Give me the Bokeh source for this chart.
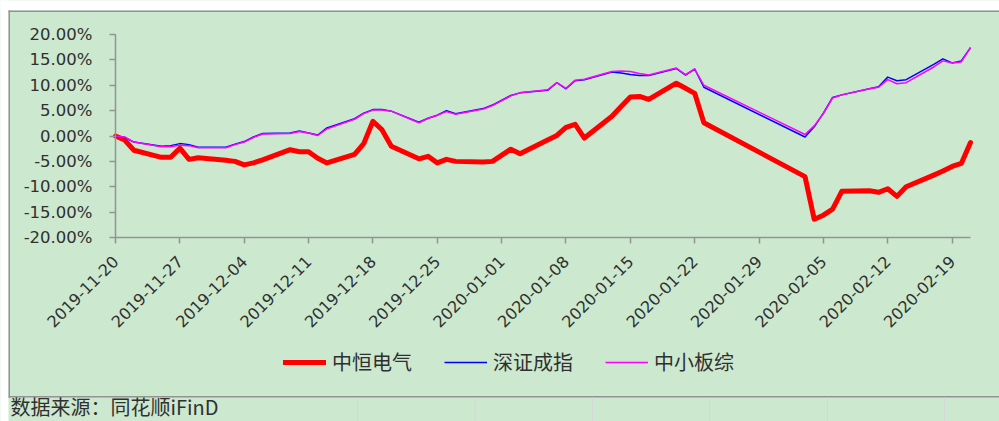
import pandas as pd
from bokeh.plotting import figure
from bokeh.models import (FixedTicker, DatetimeTickFormatter, PrintfTickFormatter, Legend, LegendItem,
                          Range1d, BoxAnnotation, Label)
from bokeh.embed import file_html
from bokeh.resources import INLINE
from math import pi

dates = ["2019-11-20","2019-11-21","2019-11-22","2019-11-25","2019-11-26","2019-11-27","2019-11-28","2019-11-29",
         "2019-12-02","2019-12-03","2019-12-04","2019-12-05","2019-12-06","2019-12-09","2019-12-10","2019-12-11",
         "2019-12-12","2019-12-13","2019-12-16","2019-12-17","2019-12-18","2019-12-19","2019-12-20","2019-12-23",
         "2019-12-24","2019-12-25","2019-12-26","2019-12-27","2019-12-30","2019-12-31",
         "2020-01-02","2020-01-03","2020-01-06","2020-01-07","2020-01-08","2020-01-09","2020-01-10","2020-01-13",
         "2020-01-14","2020-01-15","2020-01-16","2020-01-17","2020-01-20","2020-01-21","2020-01-22","2020-01-23",
         "2020-02-03","2020-02-04","2020-02-05","2020-02-06","2020-02-07","2020-02-10","2020-02-11","2020-02-12",
         "2020-02-13","2020-02-14","2020-02-17","2020-02-18","2020-02-19","2020-02-20","2020-02-21"]

zhongheng = [0.0, -0.8, -2.8, -4.2, -4.2, -2.4, -4.6, -4.3,
             -4.8, -5.0, -5.7, -5.3, -4.7, -2.7, -3.1, -3.1, -4.4, -5.3, -3.6, -1.5, 2.9, 1.2, -2.0,
             -4.5, -4.0, -5.3, -4.6, -5.0, -5.1, -5.0,
             -2.6, -3.5, -0.8, 0.1, 1.7, 2.3, -0.4, 3.9, 5.8, 7.7, 7.8, 7.2, 10.4, 9.4, 8.4, 2.6,
             -8.0, -16.4, -15.6, -14.4, -10.9, -10.8, -11.1, -10.4, -11.9, -10.0, -7.7, -6.9, -6.0, -5.4, -1.3]

szci = [0.0, -0.3, -1.2, -2.0, -1.9, -1.5, -1.7, -2.2,
        -2.2, -1.6, -1.1, -0.2, 0.5, 0.6, 1.0, 0.6, 0.2, 1.6, 3.4, 4.5, 5.2, 5.2, 4.9,
        2.7, 3.5, 4.1, 5.0, 4.4, 5.4, 6.1,
        8.0, 8.5, 9.0, 10.5, 9.3, 10.9, 11.1, 12.6, 12.4, 12.1, 11.9, 11.9, 13.3, 12.0, 13.2, 9.6,
        -0.2, 1.8, 4.5, 7.6, 8.1, 9.3, 9.7, 11.6, 10.9, 11.1, 14.1, 15.2, 14.4, 14.8, 17.4]

sme = [0.0, -0.2, -1.2, -2.1, -2.1, -1.8, -1.9, -2.3,
       -2.3, -1.7, -1.2, -0.3, 0.4, 0.5, 0.9, 0.6, 0.1, 1.4, 3.3, 4.4, 5.1, 5.1, 4.9,
       2.6, 3.5, 4.1, 4.8, 4.3, 5.3, 6.0,
       7.9, 8.5, 9.1, 10.5, 9.4, 11.0, 11.2, 12.7, 12.8, 12.7, 12.3, 12.0, 13.4, 12.1, 13.2, 10.0,
       0.3, 2.0, 4.4, 7.5, 8.1, 9.3, 9.6, 11.1, 10.3, 10.5, 13.6, 14.8, 14.4, 14.6, 17.4]

x_tick_labels = ["2019-11-20","2019-11-27","2019-12-04","2019-12-11","2019-12-18","2019-12-25","2020-01-01",
                 "2020-01-08","2020-01-15","2020-01-22","2020-01-29","2020-02-05","2020-02-12","2020-02-19"]
x_first, x_last = "2019-11-20", "2020-02-21"
y_ticks = [-20, -15, -10, -5, 0, 5, 10, 15, 20]

series_names = ["中恒电气", "深证成指", "中小板综"]
source_text = "数据来源：同花顺iFinD"

# ---- layout constants (pixels) ----
W, H = 999, 421
PL, PR, PT, PB = 115, 970, 34, 237        # plot box on the page
BG = "#CCE8CF"
EDGE = "#939393"
CELL = "#d6d6d6"
TXT = "#303030"

# map the whole canvas to data space so the plot box lands at PL..PR, PT..PB
t0 = pd.Timestamp(x_first).value / 1e6
t1 = pd.Timestamp(x_last).value / 1e6
ms_px = (t1 - t0) / (PR - PL)
ymin, ymax = min(y_ticks), max(y_ticks)
y_px = (ymax - ymin) / (PB - PT)
x_range = Range1d(t0 - PL * ms_px, t1 + (W - PR) * ms_px)
y_range = Range1d(ymin - (H - PB) * y_px, ymax + PT * y_px)

p = figure(width=W, height=H, output_backend="svg", toolbar_location=None, title_location=None,
           x_axis_type="datetime", x_range=x_range, y_range=y_range,
           min_border=0, min_border_left=0, min_border_right=0, min_border_top=0, min_border_bottom=0)
p.background_fill_color = BG
p.border_fill_color = BG
p.outline_line_color = None
p.grid.visible = False

x = pd.to_datetime(dates)
r1 = p.line(x, zhongheng, line_color="#FF0000", line_width=5, line_join="round", line_cap="round")
r2 = p.line(x, szci, line_color="#0000FF", line_width=1.5, line_join="round")
r3 = p.line(x, sme, line_color="#FF00FF", line_width=1.5, line_join="round")

xa, ya = p.xaxis[0], p.yaxis[0]
xa.fixed_location = ymin
xa.bounds = (t0, t1)
ya.fixed_location = t0
ya.bounds = (ymin, ymax)

tick_ms = [pd.Timestamp(t).value / 1e6 for t in x_tick_labels]
xa.ticker = FixedTicker(ticks=tick_ms)
fmt = "%Y-%m-%d"
xa.formatter = DatetimeTickFormatter(days=fmt, months=fmt, years=fmt, hours=fmt, hourmin=fmt,
                                     minutes=fmt, minsec=fmt, seconds=fmt, milliseconds=fmt,
                                     microseconds=fmt)
xa.major_label_orientation = pi / 4
ya.ticker = FixedTicker(ticks=y_ticks)
ya.formatter = PrintfTickFormatter(format="%.2f%%")

for ax in (xa, ya):
    ax.axis_line_color = EDGE
    ax.axis_line_width = 1.5
    ax.major_tick_line_color = EDGE
    ax.major_tick_line_width = 1.5
    ax.major_tick_out = 6
    ax.major_tick_in = 0
    ax.minor_tick_out = 0
    ax.minor_tick_in = 0
    ax.major_label_text_font = "DejaVu Sans"
    ax.major_label_text_color = TXT
xa.major_label_text_font_size = "16px"
ya.major_label_text_font_size = "16.5px"
ya.major_label_standoff = 17
xa.major_label_standoff = 15

legend = Legend(items=[LegendItem(label=series_names[0], renderers=[r1]),
                       LegendItem(label=series_names[1], renderers=[r2]),
                       LegendItem(label=series_names[2], renderers=[r3])],
                orientation="horizontal", location=(283, 45),
                background_fill_alpha=0, border_line_alpha=0,
                label_text_font="Noto Sans CJK SC", label_text_font_size="20px",
                label_text_color=TXT,
                glyph_width=43, glyph_height=20, label_standoff=6, spacing=32,
                padding=0, margin=0)
p.add_layout(legend)


def box(x0, x1, y0, y1, color):
    """page-pixel rectangle (y measured from top) drawn as a screen-unit box"""
    p.add_layout(BoxAnnotation(left=x0, right=x1, top=H - y0, bottom=H - y1,
                               left_units="screen", right_units="screen",
                               top_units="screen", bottom_units="screen",
                               fill_color=color, fill_alpha=1, line_alpha=0))


# page margin (white), chart border, spreadsheet cell lines
box(-5, W + 5, -5, 10, "white")
box(-5, 8, -5, H + 5, "white")
box(8, W + 5, 10, 11.5, EDGE)
box(8, 9.5, 10, 397, EDGE)
box(8, W + 5, 395.5, 397, EDGE)
for cx in [357, 474.5, 592, 709, 827, 944]:
    box(cx - 0.5, cx + 0.5, 397, H + 5, CELL)

p.add_layout(Label(x=10, y=0.5, x_units="screen", y_units="screen", text=source_text,
                   text_font="Noto Sans CJK SC", text_font_size="20px", text_color=TXT,
                   text_baseline="bottom", text_align="left"))

open("out.html", "w").write(file_html(p, INLINE))
